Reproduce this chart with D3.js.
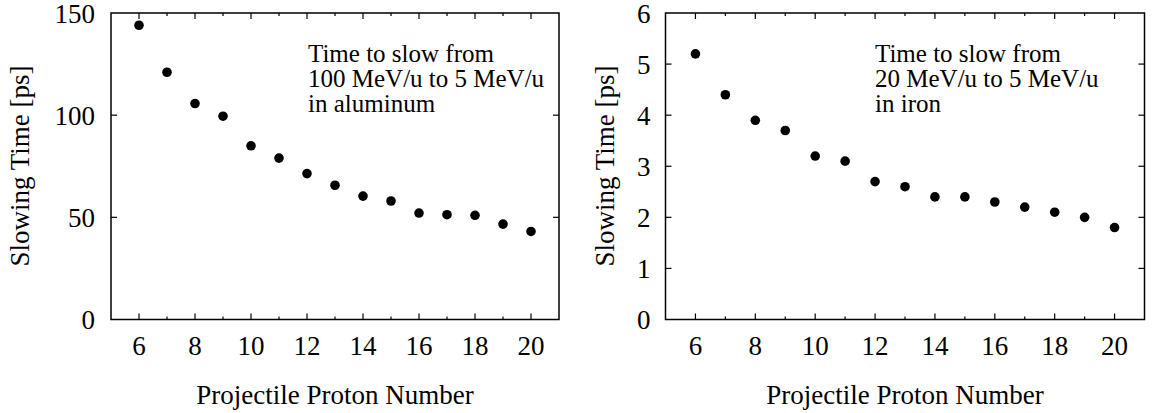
<!DOCTYPE html>
<html><head><meta charset="utf-8">
<script src="https://cdn.jsdelivr.net/npm/d3@7"></script>
<style>
body{margin:0;background:#fff;}
svg{display:block;}
</style></head>
<body>
<svg id="c" width="1154" height="413"></svg>
<script>
const protonNumbers = [6,7,8,9,10,11,12,13,14,15,16,17,18,19,20];
const aluminumTimes = [144,121,105.7,99.5,85,79,71.4,65.7,60.4,58,52.1,51.3,51,46.7,43.1];
const ironTimes = [5.2,4.4,3.9,3.7,3.2,3.1,2.7,2.6,2.4,2.4,2.3,2.2,2.1,2.0,1.8];
const xTickLabels = [6,8,10,12,14,16,18,20];
const yTicksAl = [0,50,100,150];
const yTicksFe = [0,1,2,3,4,5,6];
const annotAl = ["Time to slow from","100 MeV/u to 5 MeV/u","in aluminum"];
const annotFe = ["Time to slow from","20 MeV/u to 5 MeV/u","in iron"];
const xLabel = "Projectile Proton Number";
const yLabel = "Slowing Time [ps]";

const svg = d3.select("#c");
const FONT = "Liberation Serif";

function panel(opt){
  const g = svg.append("g");
  const x = d3.scaleLinear().domain([5,21]).range([opt.left, opt.right]);
  const y = d3.scaleLinear().domain(opt.ydom).range([opt.bottom, opt.top]);
  const fs = 27;
  const minor = d3.range(6,21,1);
  const major = xTickLabels;
  minor.forEach(v=>{
    const len = major.includes(v) ? 6 : 3;
    g.append("line").attr("x1",x(v)).attr("x2",x(v)).attr("y1",opt.bottom).attr("y2",opt.bottom-len).attr("stroke","#000").attr("stroke-width",1.2);
    g.append("line").attr("x1",x(v)).attr("x2",x(v)).attr("y1",opt.top).attr("y2",opt.top+len).attr("stroke","#000").attr("stroke-width",1.2);
  });
  opt.yticks.forEach(v=>{
    if (v===opt.ydom[0]||v===opt.ydom[1]) return;
    g.append("line").attr("x1",opt.left).attr("x2",opt.left+6).attr("y1",y(v)).attr("y2",y(v)).attr("stroke","#000").attr("stroke-width",1.2);
    g.append("line").attr("x1",opt.right).attr("x2",opt.right-6).attr("y1",y(v)).attr("y2",y(v)).attr("stroke","#000").attr("stroke-width",1.2);
  });
  g.append("rect").attr("x",opt.left).attr("y",opt.top).attr("width",opt.right-opt.left).attr("height",opt.bottom-opt.top)
    .attr("fill","none").attr("stroke","#000").attr("stroke-width",1.5);
  g.selectAll(".xl").data(major).enter().append("text").attr("font-family",FONT)
    .attr("x",d=>x(d)).attr("y",opt.bottom+35.5).attr("text-anchor","middle").attr("font-size",fs).text(d=>d);
  g.selectAll(".yl").data(opt.yticks).enter().append("text").attr("font-family",FONT)
    .attr("x",opt.left-opt.ylabGap).attr("y",d=>y(d)+9.5).attr("text-anchor","end").attr("font-size",fs).text(d=>d);
  g.append("text").attr("font-family",FONT).attr("x",(opt.left+opt.right)/2).attr("y",404).attr("text-anchor","middle").attr("font-size",fs).text(xLabel);
  g.append("text").attr("font-family",FONT).attr("transform",`translate(${opt.ylabX},166) rotate(-90)`)
    .attr("text-anchor","middle").attr("font-size",fs).text(yLabel);
  g.selectAll("circle").data(protonNumbers).enter().append("circle")
    .attr("cx",d=>x(d)).attr("cy",(d,i)=>y(opt.values[i])).attr("r",4.8).attr("fill","#000");
  const t = g.append("text").attr("font-family",FONT).attr("font-size",25);
  opt.annot.forEach((s,i)=>{
    t.append("tspan").attr("x",opt.annX).attr("y",62.3+i*25).text(s);
  });
}

panel({left:111,right:559,top:13,bottom:319.5,ydom:[0,150],yticks:yTicksAl,values:aluminumTimes,annot:annotAl,annX:308,ylabX:29,ylabGap:16});
panel({left:665.5,right:1144.5,top:13,bottom:319.5,ydom:[0,6],yticks:yTicksFe,values:ironTimes,annot:annotFe,annX:875,ylabX:614,ylabGap:15});
</script>
</body></html>
